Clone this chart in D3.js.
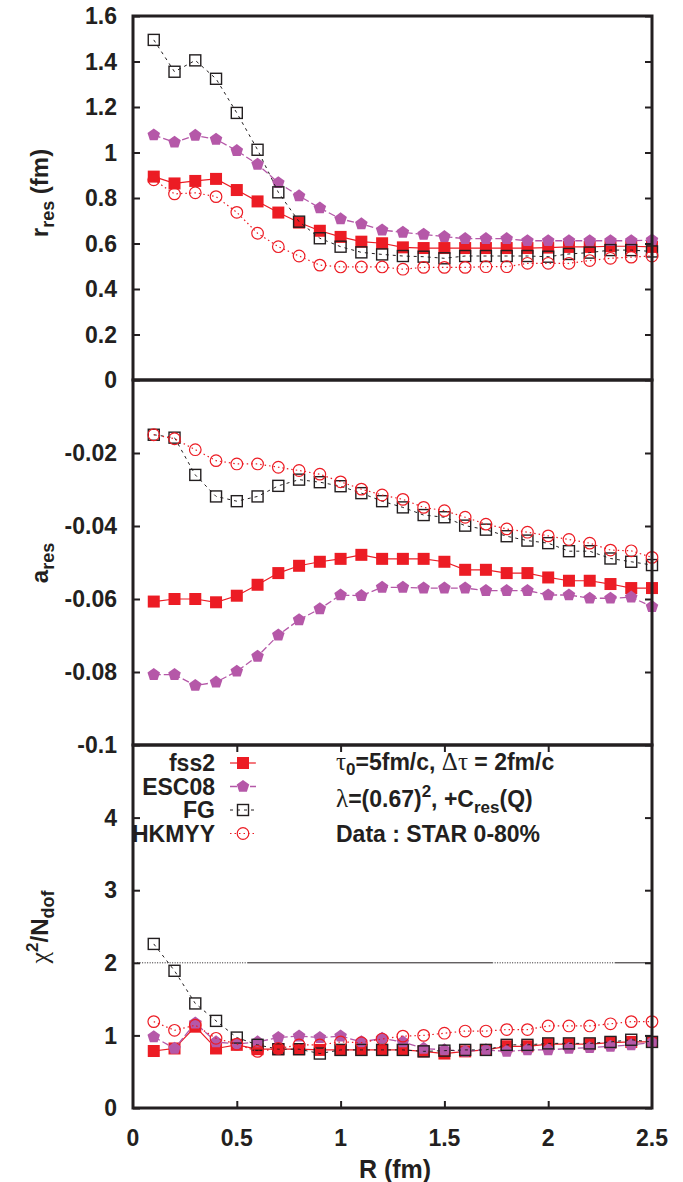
<!DOCTYPE html>
<html>
<head>
<meta charset="utf-8">
<script src="https://cdn.jsdelivr.net/npm/d3@7"></script>
<style>
  body { margin: 0; background: #fff; }
  svg { display: block; }
  text { font-family: "Liberation Sans", Arial, Helvetica, sans-serif; font-weight: bold; fill: #231f20; }
  .greek { font-family: "Liberation Serif", "DejaVu Serif", serif; font-weight: normal; }
</style>
</head>
<body>
<svg id="chart" width="683" height="1182"></svg>
<script>
// Source radius R (fm)
const R = [0.1, 0.2, 0.3, 0.4, 0.5, 0.6, 0.7, 0.8, 0.9, 1.0, 1.1, 1.2, 1.3,
           1.4, 1.5, 1.6, 1.7, 1.8, 1.9, 2.0, 2.1, 2.2, 2.3, 2.4, 2.5];

// Effective range r_res (fm)
const rFss2  = [0.894, 0.864, 0.875, 0.884, 0.835, 0.785, 0.736, 0.692, 0.656, 0.629, 0.608, 0.601, 0.583,
                0.580, 0.580, 0.580, 0.580, 0.580, 0.580, 0.582, 0.585, 0.585, 0.588, 0.588, 0.585];
const rEsc08 = [1.077, 1.045, 1.075, 1.058, 1.008, 0.948, 0.867, 0.809, 0.756, 0.708, 0.686, 0.659, 0.649,
                0.640, 0.630, 0.621, 0.621, 0.621, 0.612, 0.612, 0.612, 0.612, 0.612, 0.612, 0.615];
const rFg    = [1.495, 1.355, 1.405, 1.324, 1.174, 1.012, 0.825, 0.696, 0.623, 0.586, 0.561, 0.552, 0.545,
                0.542, 0.535, 0.545, 0.545, 0.545, 0.545, 0.542, 0.554, 0.560, 0.571, 0.571, 0.565];
const rHkmyy = [0.880, 0.818, 0.823, 0.806, 0.737, 0.645, 0.586, 0.545, 0.505, 0.497, 0.497, 0.497, 0.487,
                0.495, 0.495, 0.495, 0.498, 0.498, 0.513, 0.513, 0.513, 0.525, 0.535, 0.540, 0.545];

// Scattering length a_res
const aFss2  = [-0.0607, -0.0600, -0.0600, -0.0609, -0.0591, -0.0561, -0.0529, -0.0509, -0.0498, -0.0490, -0.0479, -0.0490, -0.0490,
                -0.0490, -0.0498, -0.0520, -0.0520, -0.0529, -0.0529, -0.0541, -0.0550, -0.0550, -0.0559, -0.0570, -0.0570];
const aEsc08 = [-0.0807, -0.0807, -0.0837, -0.0828, -0.0798, -0.0757, -0.0699, -0.0657, -0.0627, -0.0589, -0.0591, -0.0568, -0.0568,
                -0.0570, -0.0570, -0.0570, -0.0577, -0.0577, -0.0577, -0.0589, -0.0589, -0.0598, -0.0598, -0.0595, -0.0621];
const aFg    = [-0.0150, -0.0158, -0.0260, -0.0319, -0.0332, -0.0319, -0.0290, -0.0273, -0.0280, -0.0291, -0.0310, -0.0332, -0.0349,
                -0.0370, -0.0376, -0.0399, -0.0410, -0.0428, -0.0440, -0.0447, -0.0469, -0.0469, -0.0489, -0.0498, -0.0507];
const aHkmyy = [-0.0150, -0.0161, -0.0191, -0.0221, -0.0230, -0.0230, -0.0239, -0.0248, -0.0258, -0.0279, -0.0299, -0.0315, -0.0327,
                -0.0349, -0.0358, -0.0376, -0.0395, -0.0408, -0.0417, -0.0427, -0.0437, -0.0447, -0.0466, -0.0468, -0.0486];

// Fit quality chi^2 / N_dof
const chiFss2  = [0.785, 0.82, 1.12, 0.82, 0.87, 0.81, 0.81, 0.81, 0.80, 0.80, 0.80, 0.80, 0.80,
                  0.78, 0.75, 0.78, 0.80, 0.85, 0.85, 0.88, 0.88, 0.88, 0.90, 0.91, 0.91];
const chiEsc08 = [0.98, 0.82, 1.17, 0.91, 0.88, 0.91, 0.97, 0.99, 0.97, 0.99, 0.91, 0.96, 0.91,
                  0.82, 0.80, 0.78, 0.80, 0.78, 0.80, 0.80, 0.82, 0.83, 0.85, 0.87, 0.90];
const chiFg    = [2.26, 1.89, 1.44, 1.20, 0.97, 0.87, 0.81, 0.81, 0.75, 0.80, 0.80, 0.80, 0.80,
                  0.78, 0.79, 0.80, 0.80, 0.87, 0.87, 0.89, 0.89, 0.89, 0.91, 0.94, 0.91];
const chiHkmyy = [1.19, 1.07, 1.14, 0.96, 0.88, 0.78, 0.82, 0.87, 0.87, 0.91, 0.90, 0.95, 0.99,
                  1.00, 1.03, 1.06, 1.06, 1.08, 1.08, 1.13, 1.13, 1.13, 1.16, 1.19, 1.19];

const seriesNames = ["fss2", "ESC08", "FG", "HKMYY"];

// Tick values
const xTicks    = [0, 0.5, 1, 1.5, 2, 2.5];
const rTicks    = [0, 0.2, 0.4, 0.6, 0.8, 1, 1.2, 1.4, 1.6];
const aTicks    = [-0.1, -0.08, -0.06, -0.04, -0.02];
const chiTicks  = [0, 1, 2, 3, 4];
const chiRefLevel = 2;

// ---------------------------------------------------------------
const svg = d3.select("#chart");
const X0 = 133, X1 = 652;
const FS = 23;   // main label font size
const x = d3.scaleLinear().domain([0, 2.5]).range([X0, X1]);

const panels = [
  { key: "r",   y: d3.scaleLinear().domain([0, 1.6]).range([380, 16]),    ticks: rTicks,
    data: [rFss2, rEsc08, rFg, rHkmyy], xTicks: false },
  { key: "a",   y: d3.scaleLinear().domain([-0.1, 0]).range([745, 380]),  ticks: aTicks,
    data: [aFss2, aEsc08, aFg, aHkmyy], xTicks: false },
  { key: "chi", y: d3.scaleLinear().domain([0, 5]).range([1108, 745]),    ticks: chiTicks,
    data: [chiFss2, chiEsc08, chiFg, chiHkmyy], xTicks: true }
];

const RED = "#ec1c24", PURPLE = "#b558a8", BLACK = "#231f20";
const styles = [
  { stroke: RED,    dash: null,  width: 1.2, sym: "filledSquare" },
  { stroke: PURPLE, dash: "7,3", width: 1.3, sym: "pentagon" },
  { stroke: BLACK,  dash: "3,4", width: 1.0, sym: "openSquare" },
  { stroke: RED,    dash: "1.5,3", width: 1.2, sym: "openCircle" }
];

function pentagonPath(r) {
  const p = d3.path();
  for (let i = 0; i < 5; i++) {
    const ang = -Math.PI / 2 + i * 2 * Math.PI / 5;
    const px = r * Math.cos(ang), py = r * Math.sin(ang);
    if (i === 0) p.moveTo(px, py); else p.lineTo(px, py);
  }
  p.closePath();
  return p.toString();
}

function drawMarker(g, sym) {
  if (sym === "filledSquare") {
    g.append("rect").attr("x", -6).attr("y", -6).attr("width", 12).attr("height", 12)
      .attr("fill", RED);
  } else if (sym === "pentagon") {
    g.append("path").attr("d", pentagonPath(6.6)).attr("fill", PURPLE);
  } else if (sym === "openSquare") {
    g.append("rect").attr("x", -5.5).attr("y", -5.5).attr("width", 11).attr("height", 11)
      .attr("fill", "none").attr("stroke", BLACK).attr("stroke-width", 1.4);
  } else {
    g.append("circle").attr("r", 5.8).attr("fill", "none")
      .attr("stroke", RED).attr("stroke-width", 1.2);
  }
}

panels.forEach(p => {
  const gp = svg.append("g").attr("class", "panel-" + p.key);
  const yTop = p.y.range()[1], yBot = p.y.range()[0];

  // reference line in the chi^2 panel
  if (p.key === "chi") {
    const segs = [[0.02, 0.55, "1,1.5"], [0.55, 1.73, null], [1.73, 2.32, "1,1.5"], [2.32, 2.5, null]];
    segs.forEach(s => {
      gp.append("line")
        .attr("x1", x(s[0])).attr("x2", x(s[1]))
        .attr("y1", p.y(chiRefLevel)).attr("y2", p.y(chiRefLevel))
        .attr("stroke", BLACK).attr("stroke-width", 1)
        .attr("stroke-dasharray", s[2]);
    });
  }

  // series
  p.data.forEach((vals, si) => {
    const st = styles[si];
    const pts = R.map((r, i) => [r, vals[i]]);
    gp.append("path")
      .datum(pts)
      .attr("fill", "none")
      .attr("stroke", st.stroke)
      .attr("stroke-width", st.width)
      .attr("stroke-dasharray", st.dash)
      .attr("d", d3.line().x(d => x(d[0])).y(d => p.y(d[1])));
    const mk = gp.append("g");
    pts.forEach(d => {
      const g = mk.append("g").attr("transform", `translate(${x(d[0])},${p.y(d[1])})`);
      drawMarker(g, st.sym);
    });
  });

  // y ticks (left & right, inward)
  const yAxisL = d3.axisRight(p.y).tickValues(p.ticks).tickSize(7).tickFormat("");
  const yAxisR = d3.axisLeft(p.y).tickValues(p.ticks).tickSize(7).tickFormat("");
  gp.append("g").attr("transform", `translate(${X0},0)`).call(yAxisL)
    .call(g => g.select(".domain").remove())
    .call(g => g.selectAll("line").attr("stroke", BLACK).attr("stroke-width", 2));
  gp.append("g").attr("transform", `translate(${X1},0)`).call(yAxisR)
    .call(g => g.select(".domain").remove())
    .call(g => g.selectAll("line").attr("stroke", BLACK).attr("stroke-width", 2));

  // y tick labels
  gp.selectAll("text.ytl").data(p.ticks).enter().append("text")
    .attr("class", "ytl")
    .attr("x", 117).attr("y", d => p.y(d))
    .attr("dy", "0.36em")
    .attr("text-anchor", "end")
    .attr("font-size", FS)
    .text(d => String(d));

  // x ticks (bottom panel only, mirrored)
  if (p.xTicks) {
    const inner = xTicks.filter(t => t > 0 && t < 2.5);
    gp.append("g").attr("transform", `translate(0,${yBot})`)
      .call(d3.axisTop(x).tickValues(inner).tickSize(7).tickFormat(""))
      .call(g => g.select(".domain").remove())
      .call(g => g.selectAll("line").attr("stroke", BLACK).attr("stroke-width", 2));
    gp.append("g").attr("transform", `translate(0,${yTop})`)
      .call(d3.axisBottom(x).tickValues(inner).tickSize(7).tickFormat(""))
      .call(g => g.select(".domain").remove())
      .call(g => g.selectAll("line").attr("stroke", BLACK).attr("stroke-width", 2));
    gp.selectAll("text.xtl").data(xTicks).enter().append("text")
      .attr("class", "xtl")
      .attr("x", d => x(d)).attr("y", 1146)
      .attr("text-anchor", "middle")
      .attr("font-size", FS)
      .text(d => String(d));
  }

  // frame
  gp.append("rect")
    .attr("x", X0).attr("y", yTop).attr("width", X1 - X0).attr("height", yBot - yTop)
    .attr("fill", "none").attr("stroke", BLACK).attr("stroke-width", 3);
});

// axis titles
function vTitle(cx, cy) {
  return svg.append("text").attr("transform", `translate(${cx},${cy}) rotate(-90)`)
    .attr("text-anchor", "middle").attr("font-size", 24);
}
const t1 = vTitle(48, 193);
t1.append("tspan").text("r");
t1.append("tspan").attr("font-size", 18).attr("dy", 6).text("res");
t1.append("tspan").attr("dy", -6).text(" (fm)");

const t2 = vTitle(48, 563);
t2.append("tspan").text("a");
t2.append("tspan").attr("font-size", 18).attr("dy", 6).text("res");

const t3 = vTitle(48, 927);
t3.append("tspan").attr("class", "greek").attr("font-size", 26).text("χ");
t3.append("tspan").attr("font-size", 17).attr("dy", -10).text("2");
t3.append("tspan").attr("dy", 10).text("/N");
t3.append("tspan").attr("font-size", 18).attr("dy", 6).text("dof");

svg.append("text").attr("x", 395).attr("y", 1178).attr("text-anchor", "middle")
  .attr("font-size", 25).text("R (fm)");

// legend
const legY0 = 763, legDy = 23.5;
seriesNames.forEach((name, i) => {
  const yy = legY0 + i * legDy;
  svg.append("text").attr("x", 215).attr("y", yy).attr("dy", "0.36em")
    .attr("text-anchor", "end").attr("font-size", FS).text(name);
  const st = styles[i];
  svg.append("line").attr("x1", 230).attr("x2", 256).attr("y1", yy).attr("y2", yy)
    .attr("stroke", st.stroke).attr("stroke-width", st.width).attr("stroke-dasharray", st.dash);
  drawMarker(svg.append("g").attr("transform", `translate(243,${yy})`), st.sym);
});

// run parameters
const ann = svg.append("g").attr("font-size", FS);
const l1 = ann.append("text").attr("x", 336).attr("y", 770);
l1.append("tspan").attr("class", "greek").attr("font-size", 25).text("τ");
l1.append("tspan").attr("font-size", 17).attr("dy", 5).text("0");
l1.append("tspan").attr("dy", -5).text("=5fm/c, ");
l1.append("tspan").attr("class", "greek").attr("font-size", 25).text("Δτ");
l1.append("tspan").text(" = 2fm/c");

const l2 = ann.append("text").attr("x", 336).attr("y", 807);
l2.append("tspan").attr("class", "greek").attr("font-size", 25).text("λ");
l2.append("tspan").text("=(0.67)");
l2.append("tspan").attr("font-size", 17).attr("dy", -10).text("2");
l2.append("tspan").attr("dy", 10).text(", +C");
l2.append("tspan").attr("font-size", 17).attr("dy", 6).text("res");
l2.append("tspan").attr("dy", -6).text("(Q)");

ann.append("text").attr("x", 336).attr("y", 842).text("Data : STAR 0-80%");
</script>
</body>
</html>
